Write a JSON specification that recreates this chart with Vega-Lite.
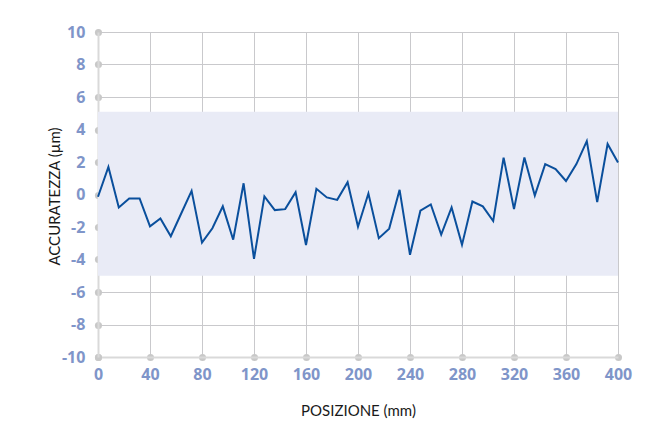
{
  "$schema": "https://vega.github.io/schema/vega-lite/v6.json",
  "width": 520,
  "height": 325,
  "autosize": {"type": "none"},
  "padding": {"left": 98, "top": 32, "right": 28, "bottom": 79},
  "background": "white",
  "config": {
    "view": {"stroke": null},
    "font": "Lato",
    "axis": {
      "labelExpr": "'' + datum.value",
      "labelOverlap": false,
      "zindex": 1,
      "grid": true, "gridColor": "#c9c9cc", "gridWidth": 1,
      "domain": true, "domainColor": "#d9d9d9", "domainWidth": 2,
      "ticks": true, "tickColor": "#c8c8c8", "tickWidth": 7, "tickSize": 0.1, "tickCap": "round",
      "labelFont": "Open Sans", "labelFontSize": 16, "labelFontWeight": "bold", "labelColor": "#7f95c9",
      "labelFlush": false,
      "titleFont": "Lato", "titleFontSize": 15, "titleFontWeight": "normal", "titleColor": "#1a1a1a"
    },
    "axisX": {"labelPadding": 9, "titleY": 53, "titleBaseline": "middle"},
    "axisY": {"labelPadding": 13, "titleX": -44, "titleY": 164, "titleBaseline": "middle", "titleAngle": -90}
  },
  "datasets": {
    "band": [{"x0": 0, "x1": 400, "lo": -5, "hi": 5.1}],
    "series": [
      {"pos": 0, "acc": -0.14},
      {"pos": 8, "acc": 1.69},
      {"pos": 16, "acc": -0.8},
      {"pos": 24, "acc": -0.24},
      {"pos": 32, "acc": -0.24},
      {"pos": 40, "acc": -1.96},
      {"pos": 48, "acc": -1.47},
      {"pos": 56, "acc": -2.57},
      {"pos": 64, "acc": -1.17},
      {"pos": 72, "acc": 0.22},
      {"pos": 80, "acc": -2.96},
      {"pos": 88, "acc": -2.08},
      {"pos": 96, "acc": -0.73},
      {"pos": 104, "acc": -2.78},
      {"pos": 112, "acc": 0.69},
      {"pos": 120, "acc": -3.96},
      {"pos": 128, "acc": -0.12},
      {"pos": 136, "acc": -0.96},
      {"pos": 144, "acc": -0.9},
      {"pos": 152, "acc": 0.14},
      {"pos": 160, "acc": -3.11},
      {"pos": 168, "acc": 0.35},
      {"pos": 176, "acc": -0.18},
      {"pos": 184, "acc": -0.33},
      {"pos": 192, "acc": 0.76},
      {"pos": 200, "acc": -1.98},
      {"pos": 208, "acc": 0.06},
      {"pos": 216, "acc": -2.69},
      {"pos": 224, "acc": -2.1},
      {"pos": 232, "acc": 0.29},
      {"pos": 240, "acc": -3.71},
      {"pos": 248, "acc": -1.0},
      {"pos": 256, "acc": -0.61},
      {"pos": 264, "acc": -2.47},
      {"pos": 272, "acc": -0.8},
      {"pos": 280, "acc": -3.1},
      {"pos": 288, "acc": -0.43},
      {"pos": 296, "acc": -0.73},
      {"pos": 304, "acc": -1.63},
      {"pos": 312, "acc": 2.27},
      {"pos": 320, "acc": -0.9},
      {"pos": 328, "acc": 2.28},
      {"pos": 336, "acc": -0.06},
      {"pos": 344, "acc": 1.87},
      {"pos": 352, "acc": 1.57},
      {"pos": 360, "acc": 0.83},
      {"pos": 368, "acc": 1.87},
      {"pos": 376, "acc": 3.29},
      {"pos": 384, "acc": -0.47},
      {"pos": 392, "acc": 3.11},
      {"pos": 400, "acc": 1.97}
    ]
  },
  "layer": [
    {
      "data": {"name": "band"},
      "mark": {"type": "rect", "color": "#e9ebf6"},
      "encoding": {
        "x": {
          "field": "x0", "type": "quantitative",
          "scale": {"domain": [0, 400], "nice": false, "zero": false},
          "axis": {"title": "POSIZIONE (mm)", "values": [0, 40, 80, 120, 160, 200, 240, 280, 320, 360, 400]}
        },
        "x2": {"field": "x1"},
        "y": {
          "field": "lo", "type": "quantitative",
          "scale": {"domain": [-10, 10], "nice": false},
          "axis": {"title": "ACCURATEZZA (µm)", "values": [-10, -8, -6, -4, -2, 0, 2, 4, 6, 8, 10]}
        },
        "y2": {"field": "hi"}
      }
    },
    {
      "data": {"name": "series"},
      "mark": {"type": "line", "color": "#0a4f9c", "strokeWidth": 2},
      "encoding": {
        "x": {
          "field": "pos", "type": "quantitative",
          "scale": {"domain": [0, 400], "nice": false, "zero": false},
          "axis": {"title": "POSIZIONE (mm)", "values": [0, 40, 80, 120, 160, 200, 240, 280, 320, 360, 400]}
        },
        "y": {
          "field": "acc", "type": "quantitative",
          "scale": {"domain": [-10, 10], "nice": false},
          "axis": {"title": "ACCURATEZZA (µm)", "values": [-10, -8, -6, -4, -2, 0, 2, 4, 6, 8, 10]}
        }
      }
    }
  ]
}
